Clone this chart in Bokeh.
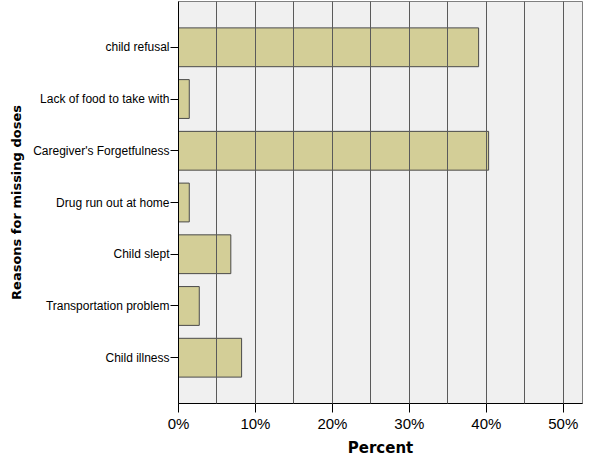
from bokeh.plotting import figure
from bokeh.models import FactorRange, Range1d, SingleIntervalTicker, PrintfTickFormatter, ColumnDataSource
from bokeh.embed import file_html
from bokeh.resources import INLINE

categories = ["child refusal", "Lack of food to take with", "Caregiver's Forgetfulness",
              "Drug run out at home", "Child slept", "Transportation problem", "Child illness"]
percent = [39.0, 1.4, 40.3, 1.4, 6.8, 2.7, 8.2]

source = ColumnDataSource(data=dict(cat=categories, pct=percent))

p = figure(y_range=FactorRange(factors=list(reversed(categories)), range_padding=0.11),
           x_range=Range1d(0, 52.5),
           frame_width=404, frame_height=402,
           min_border_left=178, min_border_right=2, min_border_top=1, min_border_bottom=52,
           output_backend="svg", toolbar_location=None)

p.background_fill_color = "#f0f0f0"
p.border_fill_color = "white"
p.outline_line_color = "#808080"

p.hbar(y="cat", right="pct", left=0, height=0.75, source=source,
       fill_color="#d3ce97", line_color="#4a4a4a", line_width=1)

p.xgrid.ticker = SingleIntervalTicker(interval=5)
p.xgrid.grid_line_color = "#5a5a5a"
p.xgrid.level = "overlay"
p.ygrid.grid_line_color = None

xa = p.xaxis[0]
xa.ticker = SingleIntervalTicker(interval=10)
xa.formatter = PrintfTickFormatter(format="%d%%")
xa.minor_tick_line_color = None
xa.major_tick_out = 9
xa.major_tick_in = 0
xa.axis_line_color = "black"
xa.major_tick_line_color = "black"
xa.major_label_text_font = "Liberation Sans"
xa.major_label_text_font_size = "15px"
xa.major_label_text_color = "black"
xa.major_label_standoff = 2
xa.axis_label = "Percent"
xa.axis_label_text_font = "DejaVu Sans"
xa.axis_label_text_font_style = "bold"
xa.axis_label_text_font_size = "15px"
xa.axis_label_text_color = "black"
xa.axis_label_standoff = 4

ya = p.yaxis[0]
ya.major_tick_out = 8
ya.major_tick_in = 0
ya.axis_line_color = "black"
ya.major_tick_line_color = "black"
ya.major_label_text_font = "Liberation Sans"
ya.major_label_text_font_size = "12px"
ya.major_label_text_color = "black"
ya.major_label_standoff = 1
ya.axis_label = "Reasons for missing doses"
ya.axis_label_text_font = "DejaVu Sans"
ya.axis_label_text_font_style = "bold"
ya.axis_label_text_font_size = "13px"
ya.axis_label_text_color = "black"
ya.axis_label_standoff = 6

open("out.html", "w").write(file_html(p, INLINE))
